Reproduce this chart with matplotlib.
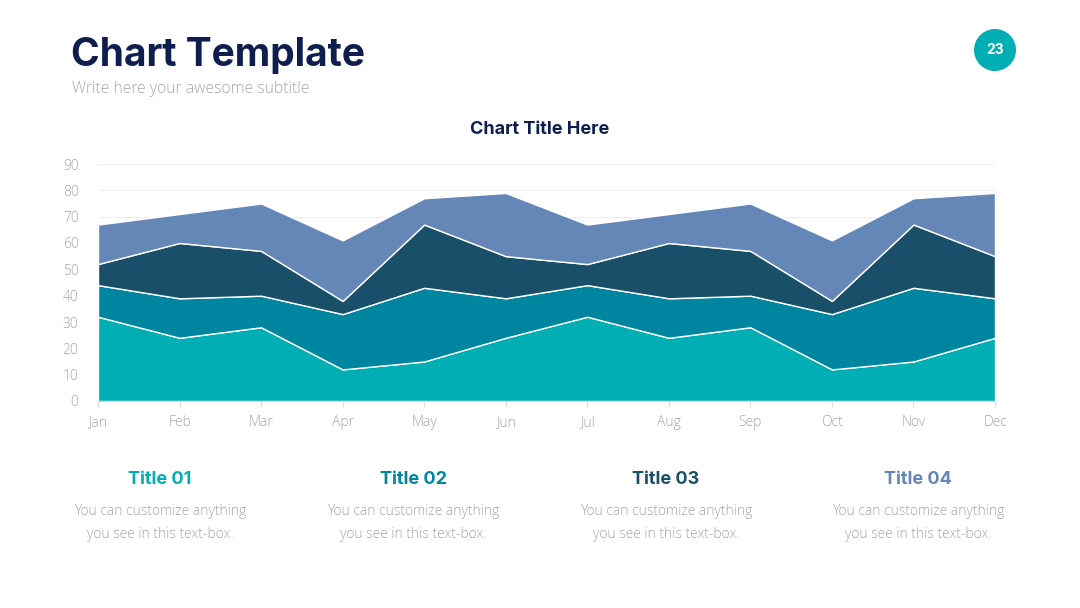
import matplotlib.pyplot as plt
from matplotlib.patches import Circle

# data
months = ["Jan", "Feb", "Mar", "Apr", "May", "Jun", "Jul", "Aug", "Sep", "Oct", "Nov", "Dec"]
series1 = [32, 24, 28, 12, 15, 24, 32, 24, 28, 12, 15, 24]
series2 = [12, 15, 12, 21, 28, 15, 12, 15, 12, 21, 28, 15]
series3 = [8, 21, 17, 5, 24, 16, 8, 21, 17, 5, 24, 16]
series4 = [15, 11, 18, 23, 10, 24, 15, 11, 18, 23, 10, 24]
yticks = [0, 10, 20, 30, 40, 50, 60, 70, 80, 90]

colors = ["#00AEB3", "#0085A1", "#1A4F69", "#6587B8"]
navy = "#0E1E4E"
gray = "#A6A6A6"

W, H = 1080, 608
fig = plt.figure(figsize=(W/100, H/100), dpi=100)
fig.patch.set_facecolor("white")

# header
fig.text(71/W, 1 - 56/H, "Chart Template", fontsize=28, fontweight="bold",
         family="Inter", color=navy, va="center", ha="left")
fig.text(72/W, 1 - 89/H, "Write here your awesome subtitle", fontsize=11.3,
         family="Open Sans", fontweight="light", color=gray, va="center", ha="left")

# page badge (in inches so it stays round)
badge = Circle((9.95, (H - 50)/100), 0.21, transform=fig.dpi_scale_trans,
               facecolor="#00AEB3", edgecolor="none")
fig.patches.append(badge)
fig.text(995/W, 1 - 50/H, "23", fontsize=10, fontweight="bold", family="Inter",
         color="white", ha="center", va="center")

fig.text(540/W, 1 - 130/H, "Chart Title Here", fontsize=13, fontweight="bold",
         family="Inter", color=navy, ha="center", va="center")

# chart
ax = fig.add_axes([98/W, 1 - 401/H, (995 - 98)/W, (401 - 164)/H])
x = list(range(len(months)))
ax.stackplot(x, series1, series2, series3, series4, colors=colors,
             edgecolor="white", linewidth=1)
ax.set_xlim(0, len(months) - 1)
ax.set_ylim(0, 90)
ax.set_yticks(yticks)
ax.set_xticks(x)
ax.set_xticklabels(months)
ax.grid(axis="y", color="#EDEDED", linewidth=0.8)
ax.set_axisbelow(True)
for s in ["top", "right", "left"]:
    ax.spines[s].set_visible(False)
ax.spines["bottom"].set_color("#D9D9D9")
ax.tick_params(axis="y", length=0, pad=14, labelsize=10, labelcolor=gray)
ax.tick_params(axis="x", length=4, color="#D9D9D9", pad=6, labelsize=10, labelcolor=gray)
for lbl in ax.get_xticklabels() + ax.get_yticklabels():
    lbl.set_family("Open Sans")
    lbl.set_fontweight("light")

# bottom text boxes
centers = [160, 413, 666, 918]
titles = ["Title 01", "Title 02", "Title 03", "Title 04"]
body = "You can customize anything\nyou see in this text-box."
for cx, t, c in zip(centers, titles, colors):
    fig.text(cx/W, 1 - 480/H, t, fontsize=13, fontweight="bold", family="Inter",
             color=c, ha="center", va="center")
    fig.text(cx/W, 1 - 523/H, body, fontsize=10, family="Open Sans", fontweight="light",
             color=gray, ha="center", va="center", linespacing=1.75)

fig.savefig("out.png", dpi=100)
